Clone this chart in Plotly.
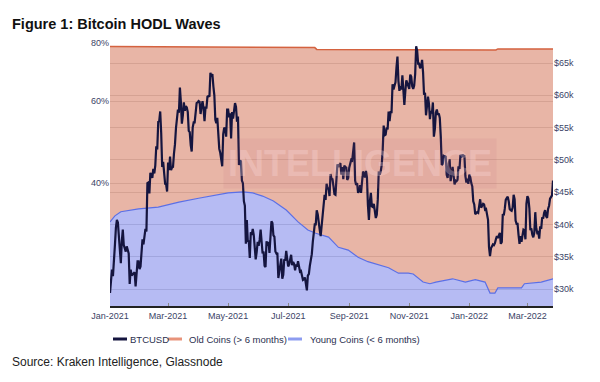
import pandas as pd
import plotly.graph_objects as go

# ---------------- data ----------------
# BTCUSD daily close, in thousands of USD, one list per month
btc_2021_01 = [29.4,32.2,33.0,32.0,34.0,36.8,39.5,40.7,40.3,38.4,35.6,34.0,37.4,39.2,36.8,36.1,35.8,36.6,36.0,35.5,30.8,33.0,32.1,32.3,32.4,32.6,30.4,33.5,34.3,34.3,33.1]
btc_2021_02 = [33.5,35.5,37.7,36.9,38.3,39.3,38.9,46.4,46.5,44.8,48.0,47.4,47.2,48.6,47.9,49.1,52.1,51.6,55.9,56.0,57.5,54.2,48.9,49.7,47.1,46.3,46.2,45.1]
btc_2021_03 = [49.6,48.4,50.5,48.4,48.8,48.9,51.0,52.4,54.9,56.0,57.8,57.3,61.2,59.0,55.6,56.9,58.9,57.6,58.3,58.1,57.4,54.5,54.3,52.3,51.3,55.0,55.8,55.8,57.6,58.8,58.9]
btc_2021_04 = [59.1,59.0,57.1,58.2,59.1,58.0,56.0,58.1,58.1,59.8,59.9,59.8,63.5,62.9,63.3,61.4,60.0,56.2,55.7,56.5,53.8,51.7,51.1,50.1,49.0,54.0,55.0,54.8,53.6,57.8]
btc_2021_05 = [57.8,56.6,57.2,53.3,57.4,56.4,57.4,58.8,58.2,55.9,56.7,49.2,49.7,49.9,46.8,46.4,43.6,42.9,37.0,40.7,37.3,37.5,34.8,38.8,38.4,39.3,38.4,35.7,34.6,35.7,37.3]
btc_2021_06 = [36.7,37.6,39.2,36.9,35.5,35.8,33.6,33.4,37.4,36.7,37.3,35.6,39.1,40.5,40.2,38.3,38.1,35.8,35.5,35.6,31.7,32.5,33.7,34.7,31.6,32.2,34.6,34.4,35.9,35.0]
btc_2021_07 = [33.5,33.8,34.7,35.3,33.7,34.2,33.9,32.9,33.8,33.5,34.3,33.1,32.7,32.8,31.8,31.4,31.5,31.8,30.8,29.8,32.1,32.3,33.6,34.3,35.4,37.3,39.4,40.0,40.0,42.2,41.6]
btc_2021_08 = [39.9,39.2,38.2,39.7,40.9,42.8,44.6,43.8,46.3,45.6,45.6,44.4,47.8,47.1,47.0,45.9,44.7,44.6,46.8,49.3,48.9,49.3,49.5,47.7,48.9,47.0,49.1,48.9,48.8,46.9,47.2]
btc_2021_09 = [48.8,49.3,50.0,49.9,51.8,52.7,46.8,46.1,46.4,44.9,45.2,46.1,44.9,47.1,48.2,47.8,47.3,48.3,47.3,43.0,40.7,43.6,44.9,42.8,42.7,43.2,42.2,41.0,41.5,43.8]
btc_2021_10 = [48.2,47.7,48.2,49.2,51.5,55.3,53.8,53.9,55.0,54.7,57.5,56.0,57.4,57.4,61.7,60.9,61.5,62.0,64.3,66.0,62.2,60.7,61.4,60.9,63.1,60.4,58.5,60.6,62.3,61.9,61.3]
btc_2021_11 = [61.0,63.2,62.9,61.4,61.0,61.5,63.3,67.6,66.9,64.9,64.9,64.2,64.4,65.5,63.6,60.1,60.4,56.9,58.1,59.8,58.7,56.3,57.6,57.2,58.9,53.6,54.8,57.3,57.8,57.0]
btc_2021_12 = [57.2,56.5,53.6,49.2,49.4,50.6,50.5,50.6,47.7,47.2,49.4,50.1,46.7,48.4,48.9,47.6,46.2,46.8,46.7,46.9,49.0,48.6,50.8,50.4,50.8,50.6,50.7,47.5,46.5,47.1,46.3]
btc_2022_01 = [47.7,47.3,46.4,45.9,43.6,43.1,41.6,41.8,41.9,41.8,42.7,43.9,42.6,43.1,43.2,43.1,42.3,42.4,41.7,40.7,36.5,35.1,36.3,36.7,36.9,36.8,37.1,37.7,38.2,37.9,38.5]
btc_2022_02 = [38.7,37.0,37.3,41.6,41.4,42.4,43.8,44.1,44.3,43.6,42.4,42.2,42.1,42.6,44.6,43.9,40.6,40.1,40.1,38.4,37.0,38.2,37.3,38.3,39.2,39.1,37.7,43.2]
btc_2022_03 = [44.4,44.0,42.5,39.1,39.4,38.4,38.0,38.7,41.9,39.4,38.7,38.8,37.8,39.7,39.3,41.1,40.9,41.8,42.2,41.3,41.0,42.4,42.9,44.0,44.3,44.5,46.8]

btc_months = [
    ("2021-01-01", btc_2021_01), ("2021-02-01", btc_2021_02), ("2021-03-01", btc_2021_03),
    ("2021-04-01", btc_2021_04), ("2021-05-01", btc_2021_05), ("2021-06-01", btc_2021_06),
    ("2021-07-01", btc_2021_07), ("2021-08-01", btc_2021_08), ("2021-09-01", btc_2021_09),
    ("2021-10-01", btc_2021_10), ("2021-11-01", btc_2021_11), ("2021-12-01", btc_2021_12),
    ("2022-01-01", btc_2022_01), ("2022-02-01", btc_2022_02), ("2022-03-01", btc_2022_03),
]

# Young coins (< 6 months) share of supply, %
young_dates = ["2021-01-01","2021-01-06","2021-01-12","2021-01-30","2021-02-19","2021-03-12",
               "2021-04-01","2021-04-21","2021-05-01","2021-05-16","2021-05-26","2021-06-05",
               "2021-06-16","2021-06-29","2021-07-11","2021-07-21","2021-07-29","2021-08-11",
               "2021-08-21","2021-08-31","2021-09-10","2021-09-20","2021-09-30","2021-10-11",
               "2021-10-21","2021-10-31","2021-11-05","2021-11-15","2021-11-22","2021-11-28",
               "2021-12-15","2021-12-28","2022-01-07","2022-01-17","2022-01-22","2022-01-27",
               "2022-01-30","2022-02-23","2022-02-26","2022-03-08","2022-03-15","2022-03-27"]
young_pct = [33.0,34.0,34.7,35.2,35.5,36.4,
             37.1,37.7,38.1,38.3,38.1,37.5,
             36.6,35.0,33.0,31.7,31.2,30.6,
             29.1,28.7,27.7,27.1,26.7,26.3,
             25.6,25.6,25.5,24.5,24.3,24.5,
             24.9,24.5,24.8,24.5,23.2,23.2,
             23.8,23.8,24.3,24.4,24.5,24.9]

# Old coins (> 6 months) share of supply, %
old_dates = ["2021-01-01","2021-04-01","2021-07-01","2021-07-28","2021-07-30","2021-10-01",
             "2022-01-01","2022-01-28","2022-01-30","2022-03-27"]
old_pct = [78.6,78.5,78.3,78.2,77.5,77.4,77.3,77.3,77.7,77.7]

left_ticks = [40, 60, 80]
left_tick_labels = ["40%", "60%", "80%"]
right_ticks = [30000, 35000, 40000, 45000, 50000, 55000, 60000, 65000]
right_tick_labels = ["$30k", "$35k", "$40k", "$45k", "$50k", "$55k", "$60k", "$65k"]

# ---------------- build ----------------
btc_dates, btc_vals = [], []
for start, vals in btc_months:
    d = pd.date_range(start, periods=len(vals), freq="D")
    btc_dates.extend(d)
    btc_vals.extend([v * 1000 for v in vals])

NAVY = "#15153f"
OLD_LINE = "#d4623f"
OLD_FILL = "rgba(214,120,92,0.55)"
YOUNG_LINE = "#5b6fe6"
YOUNG_FILL = "rgba(110,120,232,0.5)"
TICK_COLOR = "#3b4366"
FONT = "Arial"

fig = go.Figure()

# invisible baseline below the visible range (for log axis filling)
fig.add_trace(go.Scatter(x=[young_dates[0], young_dates[-1]], y=[5, 5], mode="lines",
                         line=dict(width=0, color="rgba(0,0,0,0)"), hoverinfo="skip",
                         showlegend=False, yaxis="y"))
fig.add_trace(go.Scatter(x=young_dates, y=young_pct, mode="lines", name="Young Coins (< 6 months)",
                         line=dict(color=YOUNG_LINE, width=1.2), fill="tonexty",
                         fillcolor=YOUNG_FILL, showlegend=False, yaxis="y"))
fig.add_trace(go.Scatter(x=old_dates, y=old_pct, mode="lines", name="Old Coins (> 6 months)",
                         line=dict(color=OLD_LINE, width=1.5), fill="tonexty",
                         fillcolor=OLD_FILL, showlegend=False, yaxis="y"))
fig.add_trace(go.Scatter(x=btc_dates, y=btc_vals, mode="lines", name="BTCUSD",
                         line=dict(color=NAVY, width=2.2), showlegend=False, yaxis="y2"))

fig.update_layout(
    width=600, height=382,
    margin=dict(l=110, r=47, t=43, b=76),
    paper_bgcolor="white", plot_bgcolor="white",
    font=dict(family=FONT, size=9, color=TICK_COLOR),
    xaxis=dict(
        type="date", range=["2021-01-01", "2022-03-27"],
        tickvals=["2021-01-01","2021-03-01","2021-05-01","2021-07-01","2021-09-01",
                  "2021-11-01","2022-01-01","2022-03-01"],
        tickformat="%b-%Y", showgrid=False, showline=True, linecolor="#222222", linewidth=2,
        ticks="inside", ticklen=3, tickcolor="#888888", tickfont=dict(size=9, color=TICK_COLOR),
        zeroline=False,
    ),
    yaxis=dict(
        type="log", range=[1.3377, 1.9031],
        tickvals=left_ticks, ticktext=left_tick_labels,
        showgrid=True, gridcolor="#d4d4d4", gridwidth=1, zeroline=False, showline=False,
        tickfont=dict(size=9, color=TICK_COLOR), ticks="",
    ),
    yaxis2=dict(
        overlaying="y", side="right", range=[27370, 68100],
        tickvals=right_ticks, ticktext=right_tick_labels,
        showgrid=True, gridcolor="#d4d4d4", gridwidth=1, zeroline=False, showline=False,
        tickfont=dict(size=9, color=TICK_COLOR), ticks="",
    ),
)

# title and source
fig.add_annotation(text="<b>Figure 1: Bitcoin HODL Waves</b>", xref="paper", yref="paper",
                   x=-100/443, y=1 + (43-24)/263, xanchor="left", yanchor="middle", showarrow=False,
                   font=dict(family=FONT, size=14.5, color="#111111"))
fig.add_annotation(text="Source: Kraken Intelligence, Glassnode", xref="paper", yref="paper",
                   x=-100/443, y=-(362-306)/263, xanchor="left", yanchor="middle", showarrow=False,
                   font=dict(family=FONT, size=12, color="#222222"))

# watermark
fig.add_annotation(text="<b>INTELLIGENCE</b>", xref="paper", yref="paper",
                   x=(360-110)/443, y=1-(163-43)/263, xanchor="center", yanchor="middle",
                   showarrow=False, font=dict(family=FONT, size=36, color="rgba(255,225,225,0.3)"),
                   bgcolor="rgba(190,100,120,0.1)", borderpad=4)

# custom legend
legend_items = [(113, NAVY, "BTCUSD", 128), (168, "#e8937a", "Old Coins (> 6 months)", 187),
                (288, "#8d9cf0", "Young Coins (< 6 months)", 308)]
ly = 339
for x0, col, label, tx in legend_items:
    fig.add_shape(type="line", xref="paper", yref="paper",
                  x0=(x0-110)/443, x1=(x0+14-110)/443, y0=-(ly-306)/263, y1=-(ly-306)/263,
                  line=dict(color=col, width=3))
    fig.add_annotation(text=label, xref="paper", yref="paper", x=(tx-110)/443, y=-(ly-306)/263,
                       xanchor="left", yanchor="middle", showarrow=False,
                       font=dict(family=FONT, size=9.5, color="#2b2f4f"))

fig.write_html("out.html", config={"displayModeBar": False},
               post_script="document.body.style.margin='0';")
